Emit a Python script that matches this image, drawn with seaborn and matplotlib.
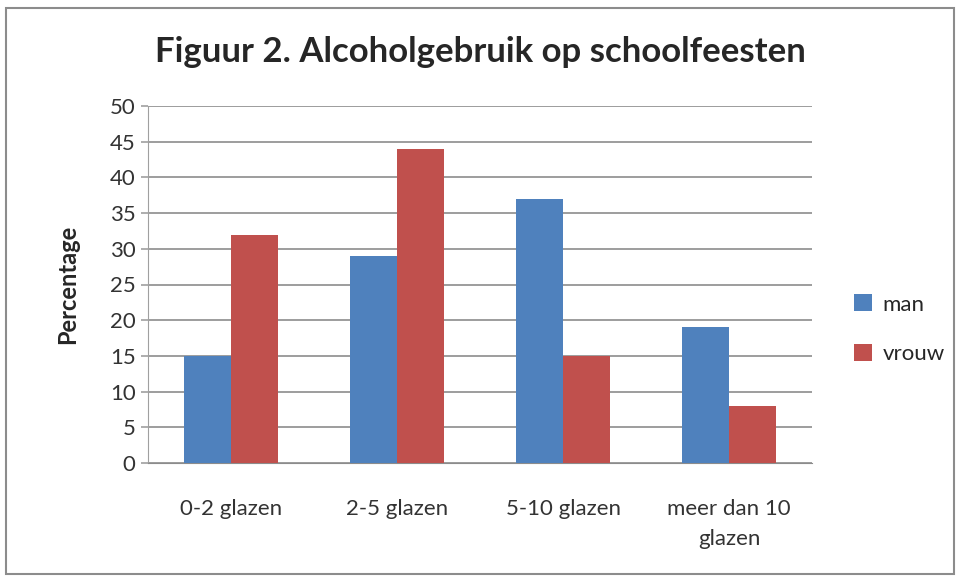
import matplotlib.pyplot as plt
import seaborn as sns
import pandas as pd
from matplotlib.patches import Rectangle

categories = ["0-2 glazen", "2-5 glazen", "5-10 glazen", "meer dan 10\nglazen"]
man = [15, 29, 37, 19]
vrouw = [32, 44, 15, 8]
series = ["man", "vrouw"]
colors = ["#4F81BD", "#C0504D"]

df = pd.DataFrame({
    "categorie": categories * 2,
    "geslacht": ["man"] * 4 + ["vrouw"] * 4,
    "percentage": man + vrouw,
})

sns.set_style("white")
plt.rcParams["font.family"] = ["Lato", "DejaVu Sans"]

fig = plt.figure(figsize=(9.6, 5.78), dpi=100)
ax = fig.add_axes([148 / 960, 1 - 463 / 578, 664 / 960, 357 / 578])

sns.barplot(data=df, x="categorie", y="percentage", hue="geslacht",
            palette=colors, hue_order=series, width=0.57, saturation=1,
            linewidth=0, ax=ax, zorder=3)

ax.set_ylim(0, 50)
ax.set_yticks(range(0, 51, 5))
ax.grid(axis="y", color="#8c8c8c", linewidth=1.2, zorder=0)
ax.set_xlabel("")
ax.set_ylabel("Percentage", fontsize=17, fontweight="bold", labelpad=22)
ax.tick_params(axis="y", labelsize=16, labelcolor="#333333", color="#a0a0a0",
               direction="out", length=5, width=1.2, pad=4, left=True)
ax.tick_params(axis="x", labelsize=16, labelcolor="#333333", length=0, pad=26)
for lbl in ax.get_xticklabels():
    lbl.set_linespacing(1.6)
for s in ["top", "right"]:
    ax.spines[s].set_visible(False)
ax.spines["left"].set_color("#a0a0a0")
ax.spines["bottom"].set_color("#8c8c8c")

ax.legend(loc="center left", bbox_to_anchor=(1.033, 0.375), frameon=False,
          fontsize=16, handlelength=0.8, handleheight=0.8, labelspacing=1.3,
          handletextpad=0.5)

fig.text(0.5, 1 - 52 / 578, "Figuur 2. Alcoholgebruik op schoolfeesten",
         ha="center", va="center", fontsize=25, fontweight="bold")

fig.patches.append(Rectangle((6 / 960, 4 / 578), 948 / 960, 566 / 578,
                             transform=fig.transFigure, fill=False,
                             edgecolor="#8c8c8c", linewidth=1.5))

fig.savefig("out.png", dpi=100)
